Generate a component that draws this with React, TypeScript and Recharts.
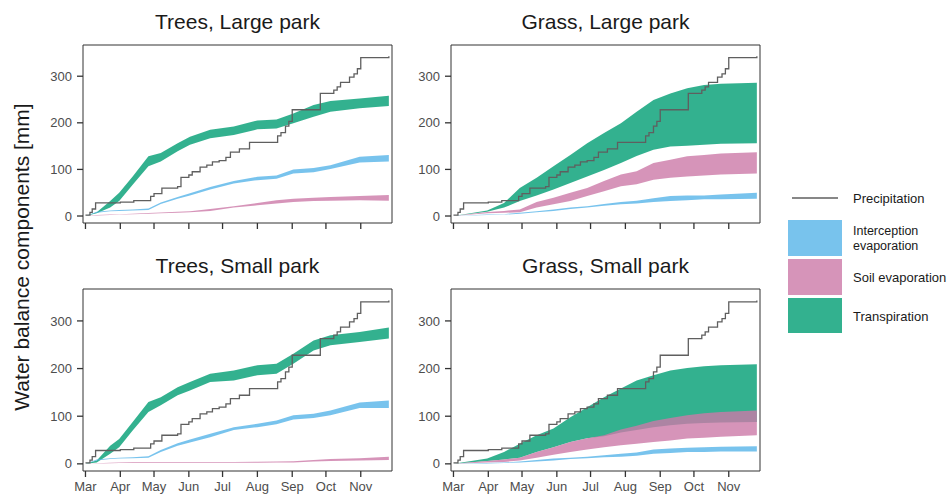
import React from 'react';
import { ComposedChart, Area, Line, XAxis, YAxis, ReferenceArea } from 'recharts';

// ---- axis ticks ----
const monthTicks = [0, 31, 61, 92, 122, 153, 184, 214, 245];
const monthLabels = ['Mar', 'Apr', 'May', 'Jun', 'Jul', 'Aug', 'Sep', 'Oct', 'Nov'];
const yTicks = [0, 100, 200, 300];

// ---- precipitation (cumulative, mm), days since 1 March ----
const precipDays = [0, 4, 6, 9, 31, 43, 58, 61, 68, 82, 85, 92, 95, 102, 108, 113, 119, 125, 129, 137, 146, 171, 174, 178, 181, 184, 209, 221, 224, 227, 235, 239, 242, 245, 270];
const precipMm = [2, 8, 15, 28, 30, 33, 42, 48, 60, 63, 83, 88, 95, 105, 109, 116, 119, 126, 137, 144, 158, 172, 179, 193, 203, 228, 263, 270, 277, 287, 298, 305, 316, 340, 343];

// ---- sample days ----
const treesDays = [0, 10, 22, 30, 42, 56, 67, 82, 93, 111, 132, 153, 170, 185, 203, 218, 244, 270];
const grassDays = [0, 30, 45, 59, 74, 89, 104, 119, 134, 149, 163, 178, 193, 208, 223, 238, 270];

// ---- Trees, Large park ----
const tlTranspLow = [0, 6, 18, 32, 67, 107, 117, 139, 153, 167, 174, 186, 188, 199, 213, 224, 231, 236];
const tlTranspHigh = [0, 8, 32, 50, 85, 128, 135, 156, 170, 185, 192, 205, 207, 220, 238, 247, 252, 258];
const tlSoilLow = [0, 1, 2, 3, 4, 5, 6, 7, 8, 11, 18, 23, 27, 30, 32, 33, 34, 33];
const tlSoilHigh = [0, 2, 3, 4, 5, 6.5, 7.5, 9, 10, 15, 21, 28, 34, 37, 39, 41, 43, 45];
const tlInterLow = [0, 7, 10, 11, 12, 13, 26, 37, 44, 57, 70, 77, 80, 91, 94, 101, 115, 117];
const tlInterHigh = [0, 9, 12, 13, 14, 16, 29, 41, 49, 62, 75, 84, 87, 100, 103, 109, 127, 131];

// ---- Trees, Small park ----
const tsTranspLow = [0, 3, 21, 35, 70, 109, 123, 144, 154, 172, 175, 186, 189, 210, 238, 249, 256, 263];
const tsTranspHigh = [0, 7, 38, 52, 88, 130, 140, 161, 172, 189, 196, 207, 210, 231, 259, 270, 277, 286];
const tsSoilLow = [0, 1, 1.5, 2, 2, 2.5, 2.5, 2.5, 2.5, 2.5, 2.5, 2.5, 3, 3, 5, 6, 7, 8];
const tsSoilHigh = [0, 1.5, 2.5, 3, 3.5, 4, 4, 4, 4, 4, 4, 4.5, 5, 5.5, 8, 10, 12, 15];
const tsInterLow = [0, 7, 10, 11, 12, 13, 25, 38, 45, 56, 71, 77, 83, 93, 96, 102, 117, 117];
const tsInterHigh = [0, 9, 12, 13, 14, 16, 29, 43, 51, 63, 77, 84, 91, 102, 105, 112, 129, 133];

// ---- Grass, Large park ----
const glTranspLow = [0, 9, 18, 32, 44, 57, 71, 85, 99, 114, 129, 142, 149, 151, 153, 155, 156];
const glTranspHigh = [0, 12, 28, 60, 82, 107, 131, 156, 178, 199, 224, 249, 263, 274, 281, 284, 286];
const glSoilLow = [0, 6, 7, 8, 18, 25, 32, 43, 53, 64, 68, 78, 82, 85, 87, 89, 91];
const glSoilHigh = [0, 8.5, 11, 14, 30, 39, 50, 60, 75, 89, 96, 114, 121, 128, 131, 134, 137];
const glInterLow = [0, 2, 3, 5, 8, 11, 15, 18, 22, 25, 27, 30, 32, 34, 36, 36, 37];
const glInterHigh = [0, 3, 4, 7, 10, 14, 18, 21, 26, 30, 33, 38, 43, 44, 44, 46, 50];

// ---- Grass, Small park ----
const gsTranspLow = [0, 6, 9, 13, 25, 35, 46, 54, 58, 66, 71, 77, 81, 84, 86, 87, 88];
const gsTranspHigh = [0, 11, 25, 42, 60, 74, 98, 119, 140, 158, 175, 186, 196, 201, 205, 207, 209];
const gsSoilLow = [0, 3, 4, 7, 13, 19, 25, 30, 35, 39, 42, 46, 49, 53, 55, 57, 60];
const gsSoilHigh = [0, 6, 9, 13, 25, 35, 46, 54, 60, 72, 80, 90, 96, 102, 106, 109, 112];
const gsInterLow = [0, 1, 2, 3, 5, 7, 10, 12, 14, 15, 17, 21, 23, 25, 25, 26, 26];
const gsInterHigh = [0, 2, 3, 5, 8, 11, 13, 15, 18, 21, 24, 30, 32, 34, 35, 36, 37];

const COL_TRANSP = '#009E73';
const COL_SOIL = '#CC79A7';
const COL_INTER = '#56B4E9';
const COL_PRECIP = '#5f5f5f';
const FONT = '"Liberation Sans", Arial, Helvetica, sans-serif';

const X_DOMAIN: [number, number] = [-2.2, 272.8];
const Y_DOMAIN: [number, number] = [-15, 367];

const toRange = (days: number[], low: number[], high: number[]) =>
  days.map((d, i) => ({ d, r: [low[i], high[i]] }));
const precipData = precipDays.map((d, i) => ({ d, p: precipMm[i] }));

type PanelProps = {
  left: number;
  top: number;
  plotH: number;
  showLabels: boolean;
  days: number[];
  transp: [number[], number[]];
  soil: [number[], number[]];
  inter: [number[], number[]];
};

function Panel({ left, top, plotH, showLabels, days, transp, soil, inter }: PanelProps) {
  const transpData = toRange(days, transp[0], transp[1]);
  const soilData = toRange(days, soil[0], soil[1]);
  const interData = toRange(days, inter[0], inter[1]);
  return (
    <div style={{ position: 'absolute', left, top }}>
      <ComposedChart width={397} height={5 + plotH + 30} margin={{ top: 5, right: 5, left: 0, bottom: 0 }}>
        <XAxis
          type="number"
          dataKey="d"
          domain={X_DOMAIN}
          allowDataOverflow
          ticks={monthTicks}
          interval={0}
          height={30}
          tickSize={6}
          tickMargin={5}
          axisLine={false}
          tickLine={{ stroke: '#333333', strokeWidth: 1.3 }}
          tick={{ fill: '#4d4d4d', fontSize: 13, fontFamily: FONT }}
          tickFormatter={(v: number) => (showLabels ? monthLabels[monthTicks.indexOf(v)] : '')}
        />
        <YAxis
          type="number"
          domain={Y_DOMAIN}
          allowDataOverflow
          ticks={yTicks}
          interval={0}
          width={83}
          tickSize={6}
          tickMargin={5}
          axisLine={false}
          tickLine={{ stroke: '#333333', strokeWidth: 1.3 }}
          tick={{ fill: '#4d4d4d', fontSize: 13, fontFamily: FONT }}
        />
        <Area data={transpData} dataKey="r" type="linear" stroke="none" fill={COL_TRANSP} fillOpacity={0.8} isAnimationActive={false} />
        <Area data={soilData} dataKey="r" type="linear" stroke="none" fill={COL_SOIL} fillOpacity={0.8} isAnimationActive={false} />
        <Area data={interData} dataKey="r" type="linear" stroke="none" fill={COL_INTER} fillOpacity={0.8} isAnimationActive={false} />
        <Line data={precipData} dataKey="p" type="stepAfter" stroke={COL_PRECIP} strokeWidth={1.3} dot={false} activeDot={false} isAnimationActive={false} />
        <ReferenceArea x1={X_DOMAIN[0]} x2={X_DOMAIN[1]} y1={Y_DOMAIN[0]} y2={Y_DOMAIN[1]} fill="none" fillOpacity={0} stroke="#333333" strokeWidth={1} ifOverflow="visible" />
      </ComposedChart>
    </div>
  );
}

const titles = ['Trees, Large park', 'Grass, Large park', 'Trees, Small park', 'Grass, Small park'];
const legendItems = ['Interception', 'Soil evaporation', 'Transpiration'];

export default function App() {
  return (
    <div style={{ position: 'absolute', left: 0, top: 0, width: 950, height: 495, background: '#ffffff', fontFamily: FONT, overflow: 'hidden' }}>
      <svg width={950} height={495} style={{ position: 'absolute', left: 0, top: 0 }}>
        <g fontFamily={FONT} fill="#1a1a1a">
          <text x={237.5} y={29} fontSize={21} textAnchor="middle">{titles[0]}</text>
          <text x={605.5} y={29} fontSize={21} textAnchor="middle">{titles[1]}</text>
          <text x={237.5} y={273} fontSize={21} textAnchor="middle">{titles[2]}</text>
          <text x={605.5} y={273} fontSize={21} textAnchor="middle">{titles[3]}</text>
          <text transform="translate(29,257) rotate(-90)" fontSize={21} textAnchor="middle">Water balance components [mm]</text>
        </g>
        <g fontFamily={FONT} fontSize={13} fill="#1a1a1a">
          <line x1={792} x2={838} y1={198} y2={198} stroke={COL_PRECIP} strokeWidth={1.3} />
          <text x={853} y={198} dominantBaseline="central">Precipitation</text>
          <rect x={788} y={220} width={54} height={36} fill={COL_INTER} fillOpacity={0.8} />
          <text x={853} y={231} fontSize={12.5} dominantBaseline="central">{legendItems[0]}</text>
          <text x={853} y={245.5} fontSize={12.5} dominantBaseline="central">evaporation</text>
          <rect x={788} y={259} width={54} height={36} fill={COL_SOIL} fillOpacity={0.8} />
          <text x={853} y={277} dominantBaseline="central">{legendItems[1]}</text>
          <rect x={788} y={298} width={54} height={35} fill={COL_TRANSP} fillOpacity={0.8} />
          <text x={853} y={316} dominantBaseline="central">{legendItems[2]}</text>
        </g>
      </svg>
      <Panel left={0} top={40} plotH={178} showLabels={false} days={treesDays}
        transp={[tlTranspLow, tlTranspHigh]} soil={[tlSoilLow, tlSoilHigh]} inter={[tlInterLow, tlInterHigh]} />
      <Panel left={368} top={40} plotH={178} showLabels={false} days={grassDays}
        transp={[glTranspLow, glTranspHigh]} soil={[glSoilLow, glSoilHigh]} inter={[glInterLow, glInterHigh]} />
      <Panel left={0} top={284} plotH={182} showLabels={true} days={treesDays}
        transp={[tsTranspLow, tsTranspHigh]} soil={[tsSoilLow, tsSoilHigh]} inter={[tsInterLow, tsInterHigh]} />
      <Panel left={368} top={284} plotH={182} showLabels={true} days={grassDays}
        transp={[gsTranspLow, gsTranspHigh]} soil={[gsSoilLow, gsSoilHigh]} inter={[gsInterLow, gsInterHigh]} />
    </div>
  );
}
